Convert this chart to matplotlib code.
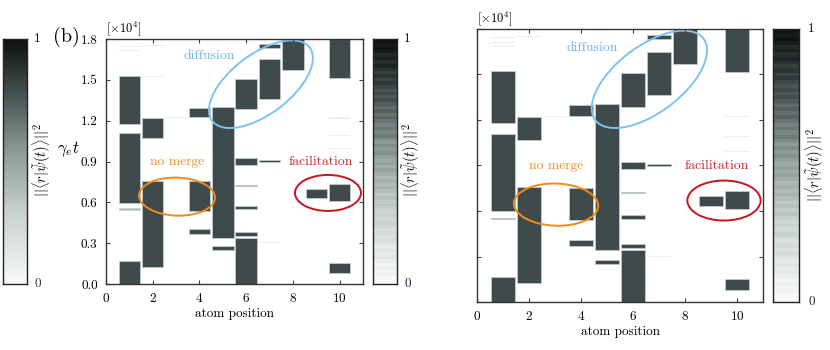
import numpy as np
import matplotlib
matplotlib.use("Agg")
import matplotlib.pyplot as plt
from matplotlib.colors import LinearSegmentedColormap, ListedColormap
from matplotlib.patches import Ellipse
from matplotlib.transforms import ScaledTranslation

plt.rcParams['font.family'] = ['cmr10', 'DejaVu Serif']
plt.rcParams['mathtext.fontset'] = 'cm'
plt.rcParams['axes.formatter.use_mathtext'] = True

# ---------------- data ----------------
bar_atom  = [1, 1, 1, 1, 2, 2, 4, 4, 4, 5, 5, 6, 6, 6, 6, 6, 6, 7, 7, 7, 8, 9, 10, 10, 10]
bar_start = [1.178, 0.598, 0.544, 0.0, 1.070, 0.125, 1.225, 0.539, 0.367, 0.340, 0.250,
             1.288, 0.874, 0.717, 0.549, 0.355, 0.0, 1.732, 1.362, 0.894, 1.572, 0.632,
             1.516, 0.610, 0.078]
bar_end   = [1.526, 1.109, 0.556, 0.167, 1.222, 0.759, 1.296, 0.754, 0.407, 1.303, 0.277,
             1.509, 0.923, 0.727, 0.573, 0.385, 0.340, 1.761, 1.651, 0.908, 1.800, 0.698,
             1.800, 0.735, 0.152]
bar_level_left  = [0.8, 0.8, 0.40, 0.8, 0.8, 0.8, 0.8, 0.8, 0.8, 0.8, 0.8,
                   0.8, 0.8, 0.8, 0.8, 0.8, 0.8, 0.8, 0.8, 0.8, 0.8, 0.8, 0.8, 0.8, 0.8]
bar_level_right = [0.8, 0.8, 0.75, 0.8, 0.8, 0.8, 0.8, 0.8, 0.8, 0.8, 0.8,
                   0.8, 0.8, 0.8, 0.8, 0.8, 0.8, 0.8, 0.8, 0.8, 0.8, 0.8, 0.8, 0.8, 0.8]

# faint residual population lines
faint_atom  = [1, 1, 1, 2, 2, 2, 3, 6, 7, 10, 10, 10, 10]
faint_value = [1.74, 1.71, 1.68, 1.52, 1.75, 0.47, 1.22, 0.30, 0.30, 1.22, 1.21, 1.09, 0.99]

x_ticks = [0, 2, 4, 6, 8, 10]
y_ticks = [0.0, 0.3, 0.6, 0.9, 1.2, 1.5, 1.8]

annotations = [("diffusion", 4.41, 1.675, '#6db3e6'),
               ("no merge", 3.04, 0.90, '#f08c1e'),
               ("facilitation", 9.2, 0.90, '#c0272d')]
# ellipse: centre (data), width, height (px), angle
ellipses = [(6.63, 1.468, 122, 60, 37, '#7cc3ef'),
            (3.04, 0.642, 76, 38, -2, '#f28a1e'),
            (9.50, 0.669, 66, 36, 0, '#c4161c')]

# ---------------- colours ----------------
cmap = LinearSegmentedColormap.from_list(
    'slate', [(0.0, '#f9fbfb'), (0.3, '#c6d0ce'), (0.55, '#8a9896'),
              (0.8, '#3f4b4a'), (1.0, '#0c1111')])

# banded variant for the right colour bars
nb = 70
band_levels = np.linspace(0, 1, nb)
mod = np.array([((i * 7) % 5 - 2) / 2.0 for i in range(nb)]) * 0.035
band_cols = [cmap(np.clip(v + m, 0, 1)) for v, m in zip(band_levels, mod)]
cmap_band = ListedColormap(band_cols)

fig = plt.figure(figsize=(8.3, 3.5), dpi=100)

def px_rect(x0, y0, x1, y1):
    return [x0 / 830, (350 - y1) / 350, (x1 - x0) / 830, (y1 - y0) / 350]

cb_label = r'$||\langle r|\tilde{\psi}(t)\rangle||^2$'

def draw_cbar(rect, cm, lab_x, one_y, zero_y, lab_y, lab_x2, zero_col):
    cax = fig.add_axes(px_rect(*rect))
    grad = np.linspace(0, 1, 256).reshape(-1, 1)
    cax.imshow(grad, cmap=cm, aspect='auto', origin='lower', extent=[0, 1, 0, 1],
               interpolation='nearest')
    cax.set_xticks([]); cax.set_yticks([])
    for s in cax.spines.values():
        s.set_linewidth(1.0); s.set_color('#222222')
    fig.text(lab_x / 830, (350 - one_y) / 350, '1', ha='left', va='center', fontsize=9.5)
    fig.text(lab_x / 830, (350 - zero_y) / 350, '0', ha='left', va='center', fontsize=9.5,
             color=zero_col)
    fig.text(lab_x2 / 830, (350 - lab_y) / 350, cb_label, rotation=90,
             ha='center', va='center', fontsize=10.5)

def draw_main(rect, levels, scale, show_ylabels):
    ax = fig.add_axes(px_rect(*rect))
    for a, v in zip(faint_atom, faint_value):
        ax.bar(a, 0.006, bottom=v, width=0.92, color='#eaf0f0', linewidth=0)
    for a, s, e, l in zip(bar_atom, bar_start, bar_end, levels):
        ax.bar(a, e - s, bottom=s, width=0.92, color=cmap(l),
               edgecolor='#c9d2d2', linewidth=0.5)
    ax.set_xlim(0, 11)
    ax.set_ylim(0, 1.8)
    ax.set_xticks(x_ticks)
    ax.set_yticks(y_ticks)
    ax.set_yticklabels([f'{v:.1f}' for v in y_ticks] if show_ylabels else [])
    ax.tick_params(direction='in', top=True, right=True, length=3, width=0.8,
                   labelsize=9.5, color='#444444', pad=6)
    for s in ax.spines.values():
        s.set_linewidth(1.0); s.set_color('#333333')
    ax.set_xlabel('atom position', fontsize=9.5, labelpad=2)
    ax.text(0, 1.005, r'[$\times 10^4$]', transform=ax.transAxes, ha='left',
            va='bottom', fontsize=9)
    for t, x, y, c in annotations:
        ax.text(x, y, t, color=c, ha='center', va='center', fontsize=9.8)
    for cx, cy, w, h, ang, c in ellipses:
        e = Ellipse((0, 0), w * scale, h * scale, angle=ang,
                    transform=ScaledTranslation(cx, cy, ax.transData),
                    fill=False, edgecolor=c, linewidth=1.4, clip_on=False)
        ax.add_patch(e)
    return ax

# left figure
draw_cbar((3, 39, 27, 284), cmap, 34, 39, 284, 160, 42, '#333333')
axL = draw_main((106, 39, 363, 284), bar_level_left, 1.0, True)
fig.text(68 / 830, (350 - 149) / 350, r'$\gamma_e t$', ha='center', va='center', fontsize=12)
fig.text(66 / 830, (350 - 37) / 350, '(b)', ha='center', va='center', fontsize=14.5)
draw_cbar((373, 39, 397, 284), cmap_band, 404, 39, 284, 160, 411, '#1a2340')

# right figure
axR = draw_main((477, 29, 763, 302), bar_level_right, 1.11, False)
draw_cbar((773, 29, 799, 302), cmap_band, 808, 29, 302, 165, 815, '#1a2340')

fig.savefig('out.png', dpi=100)
